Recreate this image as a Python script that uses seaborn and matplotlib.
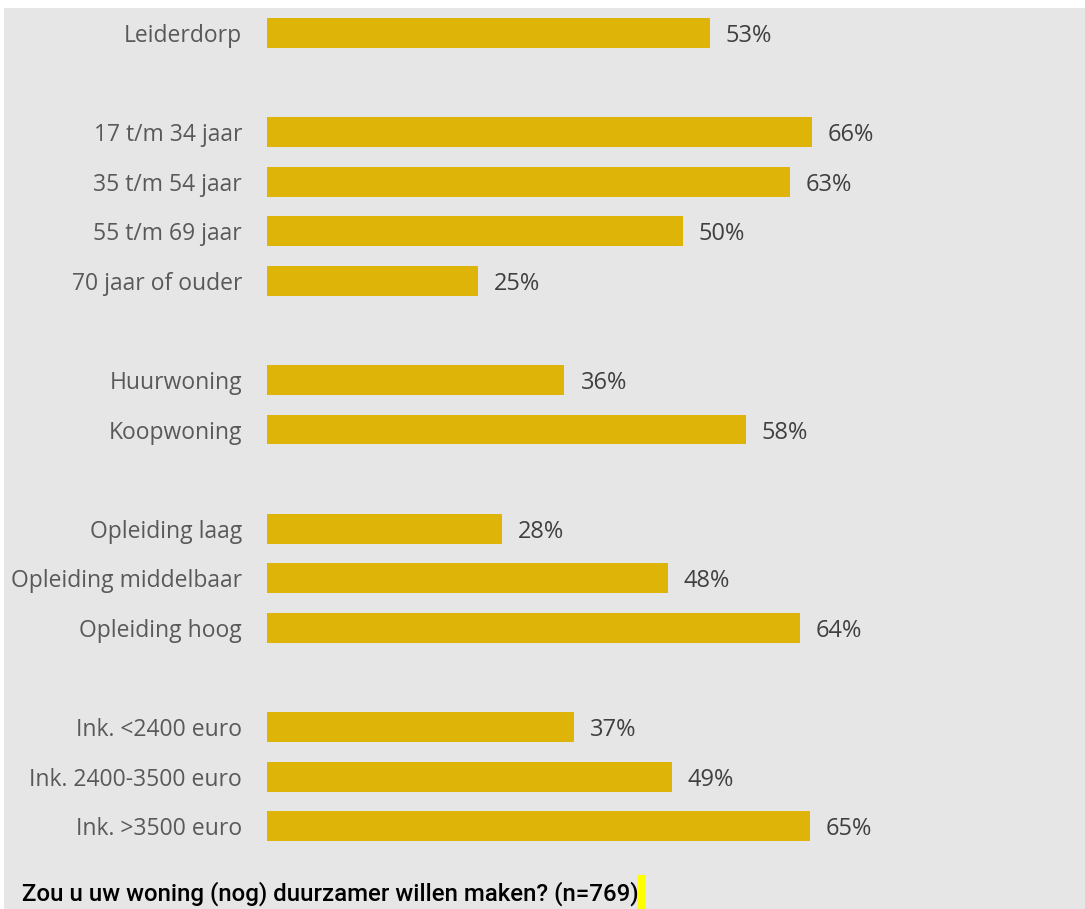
import matplotlib
matplotlib.use("Agg")
import matplotlib.pyplot as plt
import pandas as pd
import seaborn as sns
from matplotlib.patches import Rectangle

# data
categories = ["Leiderdorp",
              "17 t/m 34 jaar", "35 t/m 54 jaar", "55 t/m 69 jaar", "70 jaar of ouder",
              "Huurwoning", "Koopwoning",
              "Opleiding laag", "Opleiding middelbaar", "Opleiding hoog",
              "Ink. <2400 euro", "Ink. 2400-3500 euro", "Ink. >3500 euro"]
values = [53.3, 65.6, 62.9, 50.0, 25.4, 35.8, 57.6, 28.3, 48.2, 64.1, 36.9, 48.7, 65.3]
value_labels = ["53%", "66%", "63%", "50%", "25%", "36%", "58%", "28%", "48%", "64%", "37%", "49%", "65%"]
group_sizes = [1, 4, 2, 3, 3]
title = "Zou u uw woning (nog) duurzamer willen maken? (n=769)"

# row positions with an empty row between the groups
positions = []
row = 0
for size in group_sizes:
    for i in range(size):
        positions.append(row)
        row += 1
    row += 1

df = pd.DataFrame({"cat": categories, "value": values, "pos": positions})

BAR = "#DFB408"
BG = "#E6E6E6"
LABEL = "#595959"

sns.set_style("white")
plt.rcParams["font.family"] = ["Open Sans", "DejaVu Sans"]

fig = plt.figure(figsize=(10.85, 9.09), dpi=100, facecolor="white")
# grey panel behind everything
fig.patches.append(Rectangle((4 / 1085, 0), 1, 901 / 909, transform=fig.transFigure,
                             facecolor=BG, edgecolor="none", zorder=-10))

ax = fig.add_axes([267 / 1085, 58 / 909, 818 / 1085, 842.8 / 909])
ax.set_facecolor("none")
sns.barplot(data=df, x="value", y="pos", orient="h", native_scale=True,
            color=BAR, width=0.6, saturation=1, linewidth=0, ax=ax)

for v, p, lab in zip(df["value"], df["pos"], value_labels):
    ax.annotate(lab, xy=(v, p), xytext=(11.5, 0), textcoords="offset points",
                va="center_baseline", ha="left", fontsize=17, color="#404040")

ax.set_xlim(0, 818 / 8.31)
ax.set_ylim(max(positions) + 0.5, -0.5)
ax.set_yticks(positions, categories)
ax.tick_params(axis="y", length=0, pad=18, labelsize=16.5, labelcolor=LABEL)
ax.set_xticks([])
ax.set_xlabel("")
ax.set_ylabel("")
sns.despine(ax=ax, left=True, bottom=True)

fig.text(22 / 1085, (909 - 894) / 909, title, fontsize=17.3, color="black",
         family=["Roboto", "DejaVu Sans"], fontweight="medium", va="center", ha="left")
fig.patches.append(Rectangle((637 / 1085, 0), 8.5 / 1085, 34 / 909, transform=fig.transFigure,
                             facecolor="#FFFF00", edgecolor="none"))

fig.savefig("out.png", dpi=100, facecolor="white")
